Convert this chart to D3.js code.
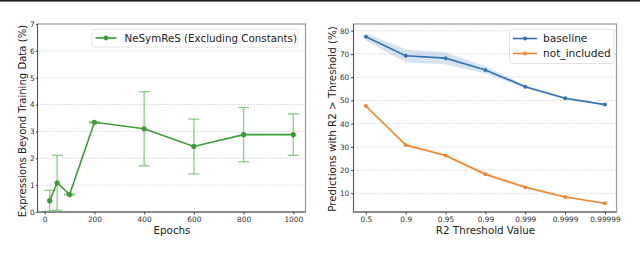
<!DOCTYPE html>
<html lang="en">
<head>
  <meta charset="UTF-8">
  <title>d3</title>
  <script src="https://d3js.org/d3.v7.min.js"></script>
  <style>
    body { margin: 0; background: #fff; }
    svg { display: block; font-family: "DejaVu Sans", sans-serif; }
  </style>
</head>
<body>
  <svg class="chart" width="640" height="256"></svg>
  <script>
      // left chart data
      const epochs = [20, 50, 100, 200, 400, 600, 800, 1000];
      const beyondPct = [0.42, 1.09, 0.65, 3.34, 3.10, 2.44, 2.88, 2.88];
      const beyondErr = [0.39, 1.02, 0.02, 0.02, 1.38, 1.02, 1.01, 0.77];
      const epochTicks = [0, 200, 400, 600, 800, 1000];
      const pctTicks = [0, 1, 2, 3, 4, 5, 6, 7];

      // right chart data
      const thresholds = ['0.5', '0.9', '0.95', '0.99', '0.999', '0.9999', '0.99999'];
      const baseline = [77.4, 69.2, 68.2, 63.1, 55.9, 50.9, 48.2];
      const baselineLo = [75.8, 66.3, 65.6, 61.5, 55.3, 50.4, 47.8];
      const baselineHi = [78.9, 72.0, 70.6, 64.7, 56.5, 51.4, 48.6];
      const notIncluded = [47.6, 30.8, 26.3, 18.2, 12.6, 8.4, 5.7];
      const notIncludedLo = [47.0, 30.3, 25.8, 17.4, 12.1, 8.0, 5.4];
      const notIncludedHi = [48.2, 31.3, 26.8, 19.0, 13.1, 8.8, 6.0];
      const predTicks = [10, 20, 30, 40, 50, 60, 70, 80];

      const svg = d3.select('.chart');

      // thin dark strip on top edge
      svg.append('rect').attr('x', 0).attr('y', 0).attr('width', 640).attr('height', 1.6).attr('fill', '#222');

      function frame(g, x0, x1, y0, y1) {
        g.append('rect').attr('x', x0).attr('y', y0).attr('width', x1 - x0).attr('height', y1 - y0)
          .attr('fill', 'none').attr('stroke', '#999').attr('stroke-width', 1.2);
        g.append('line').attr('x1', x0).attr('x2', x0).attr('y1', y0).attr('y2', y1)
          .attr('stroke', '#555').attr('stroke-width', 1);
        g.append('line').attr('x1', x0).attr('x2', x1).attr('y1', y1).attr('y2', y1)
          .attr('stroke', '#555').attr('stroke-width', 1);
      }

      function styleAxis(a) {
        a.select('.domain').remove();
        a.selectAll('.tick line').attr('stroke', '#444');
        a.selectAll('.tick text').attr('font-size', 7.4).attr('fill', '#333').attr('font-family', '"DejaVu Sans", sans-serif');
      }

      const intFmt = d3.format('d');

      // ---------- left chart ----------
      const L = { x0: 37.5, x1: 305.5, y0: 24, y1: 212 };
      const xL = d3.scaleLinear().domain([-29, 1049]).range([L.x0, L.x1]);
      const yL = d3.scaleLinear().domain([0, 7]).range([L.y1, L.y0]);
      const gL = svg.append('g');

      gL.selectAll('.grid').data(pctTicks.slice(1, -1)).enter().append('line')
        .attr('x1', L.x0).attr('x2', L.x1).attr('y1', d => yL(d)).attr('y2', d => yL(d))
        .attr('stroke', '#ccc').attr('stroke-width', 0.8).attr('stroke-dasharray', '1.5,1.5');

      frame(gL, L.x0, L.x1, L.y0, L.y1);

      styleAxis(gL.append('g').attr('transform', `translate(0,${L.y1})`)
        .call(d3.axisBottom(xL).tickValues(epochTicks).tickFormat(intFmt).tickSize(2.5).tickPadding(1.8)));
      styleAxis(gL.append('g').attr('transform', `translate(${L.x0},0)`)
        .call(d3.axisLeft(yL).tickValues(pctTicks).tickFormat(intFmt).tickSize(1.5).tickPadding(1.4)));

      const green = '#3a9d34';
      const errColor = 'rgba(76,175,70,0.6)';
      const errG = gL.append('g');
      epochs.forEach((e, i) => {
        const cx = xL(e), top = yL(beyondPct[i] + beyondErr[i]), bot = yL(beyondPct[i] - beyondErr[i]);
        errG.append('line').attr('x1', cx).attr('x2', cx).attr('y1', top).attr('y2', bot)
          .attr('stroke', errColor).attr('stroke-width', 1.4);
        [top, bot].forEach(yy => errG.append('line').attr('x1', cx - 5.5).attr('x2', cx + 5.5)
          .attr('y1', yy).attr('y2', yy).attr('stroke', errColor).attr('stroke-width', 1.4));
      });

      const lineL = d3.line().x((d, i) => xL(epochs[i])).y(d => yL(d));
      gL.append('path').datum(beyondPct).attr('d', lineL)
        .attr('fill', 'none').attr('stroke', green).attr('stroke-width', 1.6);
      gL.selectAll('.dot').data(beyondPct).enter().append('circle')
        .attr('cx', (d, i) => xL(epochs[i])).attr('cy', d => yL(d)).attr('r', 2.6).attr('fill', green);

      // left legend
      const legL = gL.append('g');
      legL.append('rect').attr('x', 92).attr('y', 29.5).attr('width', 206).attr('height', 17.5).attr('rx', 2)
        .attr('fill', '#fff').attr('stroke', '#ddd').attr('stroke-width', 0.8);
      legL.append('line').attr('x1', 95.5).attr('x2', 116.5).attr('y1', 38).attr('y2', 38)
        .attr('stroke', green).attr('stroke-width', 1.6);
      legL.append('circle').attr('cx', 106).attr('cy', 38).attr('r', 2.4).attr('fill', green);
      legL.append('text').attr('x', 124.5).attr('y', 41.8).attr('font-size', 10.3).attr('fill', '#222')
        .text('NeSymReS (Excluding Constants)');

      gL.append('text').attr('x', (L.x0 + L.x1) / 2 + 0.5).attr('y', 234).attr('text-anchor', 'middle')
        .attr('font-size', 10.3).attr('fill', '#222').text('Epochs');
      gL.append('text').attr('transform', `translate(26,${(L.y0 + L.y1) / 2 + 3}) rotate(-90)`)
        .attr('text-anchor', 'middle').attr('font-size', 10.1).attr('fill', '#222')
        .text('Expressions Beyond Training Data (%)');

      // ---------- right chart ----------
      const R = { x0: 353.5, x1: 616.5, y0: 24, y1: 212 };
      const xR = d3.scaleLinear().domain([-0.31, 6.29]).range([R.x0, R.x1]);
      const yR = d3.scaleLinear().domain([1.95, 82.9]).range([R.y1, R.y0]);
      const gR = svg.append('g');

      gR.selectAll('.grid').data(predTicks).enter().append('line')
        .attr('x1', R.x0).attr('x2', R.x1).attr('y1', d => yR(d)).attr('y2', d => yR(d))
        .attr('stroke', '#ccc').attr('stroke-width', 0.8).attr('stroke-dasharray', '1.5,1.5');

      frame(gR, R.x0, R.x1, R.y0, R.y1);

      styleAxis(gR.append('g').attr('transform', `translate(0,${R.y1})`)
        .call(d3.axisBottom(xR).tickValues(d3.range(thresholds.length)).tickFormat(i => thresholds[i])
          .tickSize(2.5).tickPadding(1.8)));
      styleAxis(gR.append('g').attr('transform', `translate(${R.x0},0)`)
        .call(d3.axisLeft(yR).tickValues(predTicks).tickFormat(intFmt).tickSize(2.5).tickPadding(1.7)));

      const blue = '#3274b5', orange = '#f5842a';
      const area = (lo, hi) => d3.area().x((d, i) => xR(i)).y0((d, i) => yR(lo[i])).y1((d, i) => yR(hi[i]));
      gR.append('path').datum(baseline).attr('d', area(baselineLo, baselineHi))
        .attr('fill', blue).attr('fill-opacity', 0.2);
      gR.append('path').datum(notIncluded).attr('d', area(notIncludedLo, notIncludedHi))
        .attr('fill', orange).attr('fill-opacity', 0.2);

      const lineR = d3.line().x((d, i) => xR(i)).y(d => yR(d));
      [[baseline, blue], [notIncluded, orange]].forEach(([vals, c]) => {
        gR.append('path').datum(vals).attr('d', lineR)
          .attr('fill', 'none').attr('stroke', c).attr('stroke-width', 1.6);
        gR.append('g').selectAll('circle').data(vals).enter().append('circle')
          .attr('cx', (d, i) => xR(i)).attr('cy', d => yR(d)).attr('r', 2).attr('fill', c);
      });

      // right legend
      const legR = gR.append('g');
      legR.append('rect').attr('x', 509.5).attr('y', 29.5).attr('width', 104.5).attr('height', 34).attr('rx', 2)
        .attr('fill', '#fff').attr('stroke', '#ddd').attr('stroke-width', 0.8);
      [['baseline', blue, 38.5], ['not_included', orange, 53.5]].forEach(([t, c, yy]) => {
        legR.append('line').attr('x1', 513).attr('x2', 537).attr('y1', yy).attr('y2', yy)
          .attr('stroke', c).attr('stroke-width', 1.6);
        legR.append('circle').attr('cx', 525).attr('cy', yy).attr('r', 2).attr('fill', c);
        legR.append('text').attr('x', 543).attr('y', yy + 3.8).attr('font-size', 10.6).attr('fill', '#222').text(t);
      });

      gR.append('text').attr('x', 485.5).attr('y', 234).attr('text-anchor', 'middle')
        .attr('font-size', 10.3).attr('fill', '#222').text('R2 Threshold Value');
      gR.append('text').attr('transform', `translate(336,${(R.y0 + R.y1) / 2 + 1}) rotate(-90)`)
        .attr('text-anchor', 'middle').attr('font-size', 10.3).attr('fill', '#222')
        .text('Predictions with R2 > Threshold (%)');
  </script>
</body>
</html>
